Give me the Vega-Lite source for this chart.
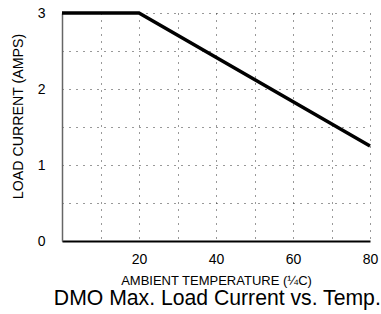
{
  "$schema": "https://vega.github.io/schema/vega-lite/v6.json",
  "autosize": {"type": "none"},
  "width": 308,
  "height": 228,
  "padding": {"left": 62, "top": 13, "right": 11, "bottom": 73},
  "background": "white",
  "title": {
    "text": "DMO Max. Load Current vs. Temp.",
    "orient": "bottom",
    "anchor": "end",
    "offset": 1,
    "font": "Liberation Sans",
    "fontSize": 21.2,
    "fontWeight": "normal",
    "color": "black",
    "dx": 3
  },
  "config": {
    "view": {"stroke": null},
    "axis": {"labelFont": "Liberation Sans", "titleFont": "Liberation Sans", "labelColor": "black", "titleColor": "black", "titleFontWeight": "normal"}
  },
  "data": {"values": [
    {"temp": 0, "amps": 3},
    {"temp": 20, "amps": 3},
    {"temp": 80, "amps": 1.25}
  ]},
  "mark": {"type": "line", "color": "black", "strokeWidth": 3.5},
  "encoding": {
    "x": {
      "field": "temp", "type": "quantitative",
      "scale": {"domain": [0, 80], "nice": false},
      "axis": {
        "values": [10, 20, 30, 40, 50, 60, 70, 80],
        "labelExpr": "datum.value % 20 == 0 ? datum.label : ''",
        "title": "AMBIENT TEMPERATURE (¼C)",
        "titleFontSize": 13,
        "titlePadding": 8,
        "labelFontSize": 14,
        "labelPadding": 11,
        "ticks": false,
        "grid": true,
        "gridDash": [1, 6],
        "gridColor": "#333",
        "gridOpacity": 1,
        "domainColor": "black",
        "domainWidth": 1.8,
        "labelFlush": false
      }
    },
    "y": {
      "field": "amps", "type": "quantitative",
      "scale": {"domain": [0, 3], "nice": false},
      "axis": {
        "values": [0, 0.5, 1, 1.5, 2, 2.5, 3],
        "labelExpr": "datum.value % 1 == 0 ? format(datum.value, 'd') : ''",
        "title": "LOAD CURRENT (AMPS)",
        "titleFontSize": 14.2,
        "titlePadding": 12,
        "titleY": 103,
        "labelFontSize": 14,
        "labelPadding": 17,
        "ticks": false,
        "grid": true,
        "gridDash": [1, 6],
        "gridColor": "#333",
        "gridOpacity": 1,
        "domainColor": "#666",
        "domainWidth": 1.5,
        "labelFlush": false
      }
    }
  }
}
